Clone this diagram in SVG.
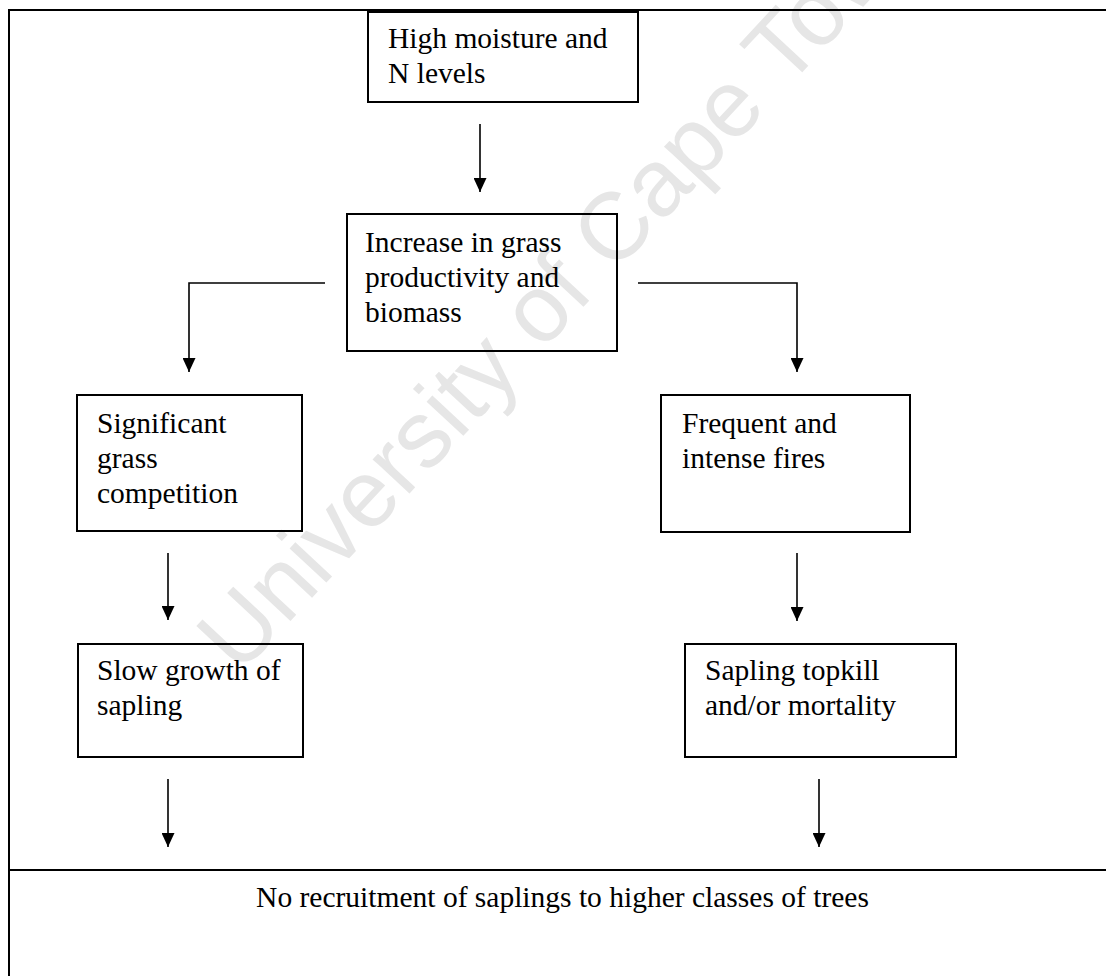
<svg xmlns="http://www.w3.org/2000/svg" width="1106" height="976" viewBox="0 0 1106 976">
  <defs>
    <marker id="arrowhead" viewBox="0 0 14 13" refX="14" refY="6.5" markerWidth="14" markerHeight="13" markerUnits="userSpaceOnUse" orient="auto">
      <path d="M0,0 L14,6.5 L0,13 Z" fill="#000"/>
    </marker>
    <style>
      .box { fill: none; stroke: #000; stroke-width: 2; }
      .frame { fill: none; stroke: #000; stroke-width: 2; }
      .label { font-family: "Liberation Serif", "Times New Roman", serif; font-size: 29.5px; fill: #000; }
      .link { fill: none; stroke: #000; stroke-width: 1.6; marker-end: url(#arrowhead); }
      .mark { font-family: "Liberation Sans", Arial, sans-serif; font-size: 95px; fill: #e6e6e6; }
    </style>
  </defs>
  <rect width="1106" height="976" fill="#fff"/>

  <!-- faint diagonal watermark -->
  <text class="mark" x="588" y="302" text-anchor="middle" transform="rotate(-47 588 302)">University of Cape Town</text>

  <!-- outer frame and footer divider -->
  <g id="frame">
    <path class="frame" d="M8,10 H1106"/>
    <path class="frame" d="M9,10 V976"/>
    <path class="frame" d="M9,870 H1106"/>
  </g>

  <g id="connectors">
    <path class="link" d="M480,124 V192"/>
    <path class="link" d="M325,283 H189 V372"/>
    <path class="link" d="M638,283 H797 V372"/>
    <path class="link" d="M168,553 V620"/>
    <path class="link" d="M797,553 V621"/>
    <path class="link" d="M168,779 V847"/>
    <path class="link" d="M819,779 V847"/>
  </g>

  <g id="moisture">
    <rect class="box" x="368" y="12" width="270" height="90"/>
    <text class="label" x="388" y="48">High moisture and</text>
    <text class="label" x="388" y="83">N levels</text>
  </g>

  <g id="grass-productivity">
    <rect class="box" x="347" y="214" width="270" height="137"/>
    <text class="label" x="365" y="252">Increase in grass</text>
    <text class="label" x="365" y="287">productivity and</text>
    <text class="label" x="365" y="322">biomass</text>
  </g>

  <g id="competition">
    <rect class="box" x="77" y="395" width="225" height="136"/>
    <text class="label" x="97" y="433">Significant</text>
    <text class="label" x="97" y="468">grass</text>
    <text class="label" x="97" y="503">competition</text>
  </g>

  <g id="fires">
    <rect class="box" x="661" y="395" width="249" height="137"/>
    <text class="label" x="682" y="433">Frequent and</text>
    <text class="label" x="682" y="468">intense fires</text>
  </g>

  <g id="slow-growth">
    <rect class="box" x="78" y="644" width="225" height="113"/>
    <text class="label" x="97" y="680">Slow growth of</text>
    <text class="label" x="97" y="715">sapling</text>
  </g>

  <g id="topkill">
    <rect class="box" x="685" y="644" width="271" height="113"/>
    <text class="label" x="705" y="680">Sapling topkill</text>
    <text class="label" x="705" y="715">and/or mortality</text>
  </g>

  <g id="no-recruitment">
    <text class="label" x="562.5" y="907" text-anchor="middle">No recruitment of saplings to higher classes of trees</text>
  </g>
</svg>
